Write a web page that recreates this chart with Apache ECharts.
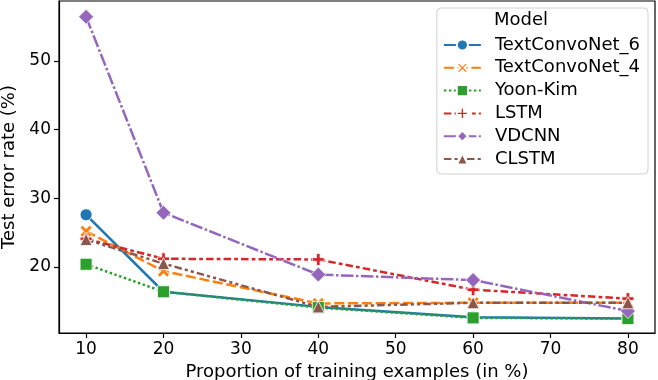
<!DOCTYPE html>
<html>
<head>
<meta charset="utf-8">
<script src="https://cdn.jsdelivr.net/npm/echarts@6/dist/echarts.min.js"></script>
<style>
  html, body { margin: 0; padding: 0; background: #fff; }
  #chart { width: 658px; height: 380px; }
</style>
</head>
<body>
<div id="chart"></div>
<script>
// data
const xVals = [10, 20, 40, 60, 80];
const modelNames = ['TextConvoNet_6', 'TextConvoNet_4', 'Yoon-Kim', 'LSTM', 'VDCNN', 'CLSTM'];
const textConvoNet6 = [27.6, 16.4, 14.2, 12.7, 12.5];
const textConvoNet4 = [25.2, 19.4, 14.7, 14.8, 14.8];
const yoonKim = [20.4, 16.4, 14.1, 12.6, 12.5];
const lstm = [24.1, 21.2, 21.1, 16.7, 15.4];
const vdcnn = [56.4, 27.9, 18.9, 18.1, 13.6];
const clstm = [24.0, 20.5, 14.2, 14.8, 14.8];
const xTicks = [10, 20, 30, 40, 50, 60, 70, 80];
const yTicks = [20, 30, 40, 50];

const colors = ['#1f77b4', '#ff7f0e', '#2ca02c', '#d62728', '#9467bd', '#8c564b'];
const xMark = 'path://M0,2 L2,0 L5,3 L8,0 L10,2 L7,5 L10,8 L8,10 L5,7 L2,10 L0,8 L3,5 Z';
const plusMark = 'path://M3.5,0 H6.5 V3.5 H10 V6.5 H6.5 V10 H3.5 V6.5 H0 V3.5 H3.5 Z';
const symbols = ['circle', xMark, 'rect', plusMark, 'diamond', 'triangle'];
const symbolSizes = [12, 12, 12, 12, 15, 12];
const lw = 2.5;
const dashes = [
  'solid',
  [4 * lw, 1.5 * lw],
  [1 * lw, 1 * lw],
  [3 * lw, 1.25 * lw, 1.5 * lw, 1.25 * lw],
  [5 * lw, 1 * lw, 1 * lw, 1 * lw],
  [3 * lw, 1.25 * lw, 1.25 * lw, 1.25 * lw, 1.25 * lw, 1.25 * lw]
];
const allSeries = [textConvoNet6, textConvoNet4, yoonKim, lstm, vdcnn, clstm];

const chart = echarts.init(document.getElementById('chart'));
const font = 'DejaVu Sans';

const option = {
  animation: false,
  color: colors,
  textStyle: { fontFamily: font },
  grid: {
    left: 59, right: 3, top: 1, bottom: 47,
    outerBoundsMode: 'none',
    containLabel: false,
    show: true, borderColor: '#000', borderWidth: 1.2, backgroundColor: 'transparent'
  },
  legend: {
    orient: 'vertical',
    right: 10,
    top: 8,
    padding: [28, 8, 6, 6],
    itemWidth: 37,
    itemHeight: 14,
    itemGap: 4.8,
    borderColor: '#d0d0d0',
    borderWidth: 1,
    borderRadius: 4,
    textStyle: { fontFamily: font, fontSize: 18, color: '#000', padding: [0, 0, 0, 9], lineHeight: 18 },
    data: modelNames
  },
  graphic: [{
    type: 'text',
    left: 494,
    top: 11,
    style: { text: 'Model', font: '18px "DejaVu Sans"', fill: '#000' }
  }],
  xAxis: {
    type: 'value',
    min: 6.5,
    max: 83.5,
    name: 'Proportion of training examples (in %)',
    nameLocation: 'middle',
    nameGap: 27,
    nameTextStyle: { fontFamily: font, fontSize: 18, color: '#000' },
    splitLine: { show: false },
    axisLine: { lineStyle: { color: '#000', width: 1.2 } },
    axisTick: { customValues: xTicks, length: 5, lineStyle: { color: '#000', width: 1.2 } },
    axisLabel: { customValues: xTicks, fontFamily: font, fontSize: 17, color: '#000', margin: 8 }
  },
  yAxis: {
    type: 'value',
    min: 10.4,
    max: 58.7,
    name: 'Test error rate (%)',
    nameLocation: 'middle',
    nameGap: 39,
    nameTextStyle: { fontFamily: font, fontSize: 18, color: '#000' },
    splitLine: { show: false },
    axisLine: { show: true, lineStyle: { color: '#000', width: 1.2 } },
    axisTick: { show: true, customValues: yTicks, length: 5, lineStyle: { color: '#000', width: 1.2 } },
    axisLabel: { customValues: yTicks, fontFamily: font, fontSize: 17, color: '#000', margin: 8 }
  },
  series: modelNames.map((name, i) => ({
    name: name,
    type: 'line',
    data: xVals.map((x, j) => [x, allSeries[i][j]]),
    symbol: symbols[i],
    symbolSize: symbolSizes[i],
    showAllSymbol: true,
    lineStyle: { width: lw, type: dashes[i], color: colors[i] },
    itemStyle: { color: colors[i], borderColor: '#fff', borderWidth: 0.8 },
    emphasis: { disabled: true }
  }))
};

chart.setOption(option);
</script>
</body>
</html>
